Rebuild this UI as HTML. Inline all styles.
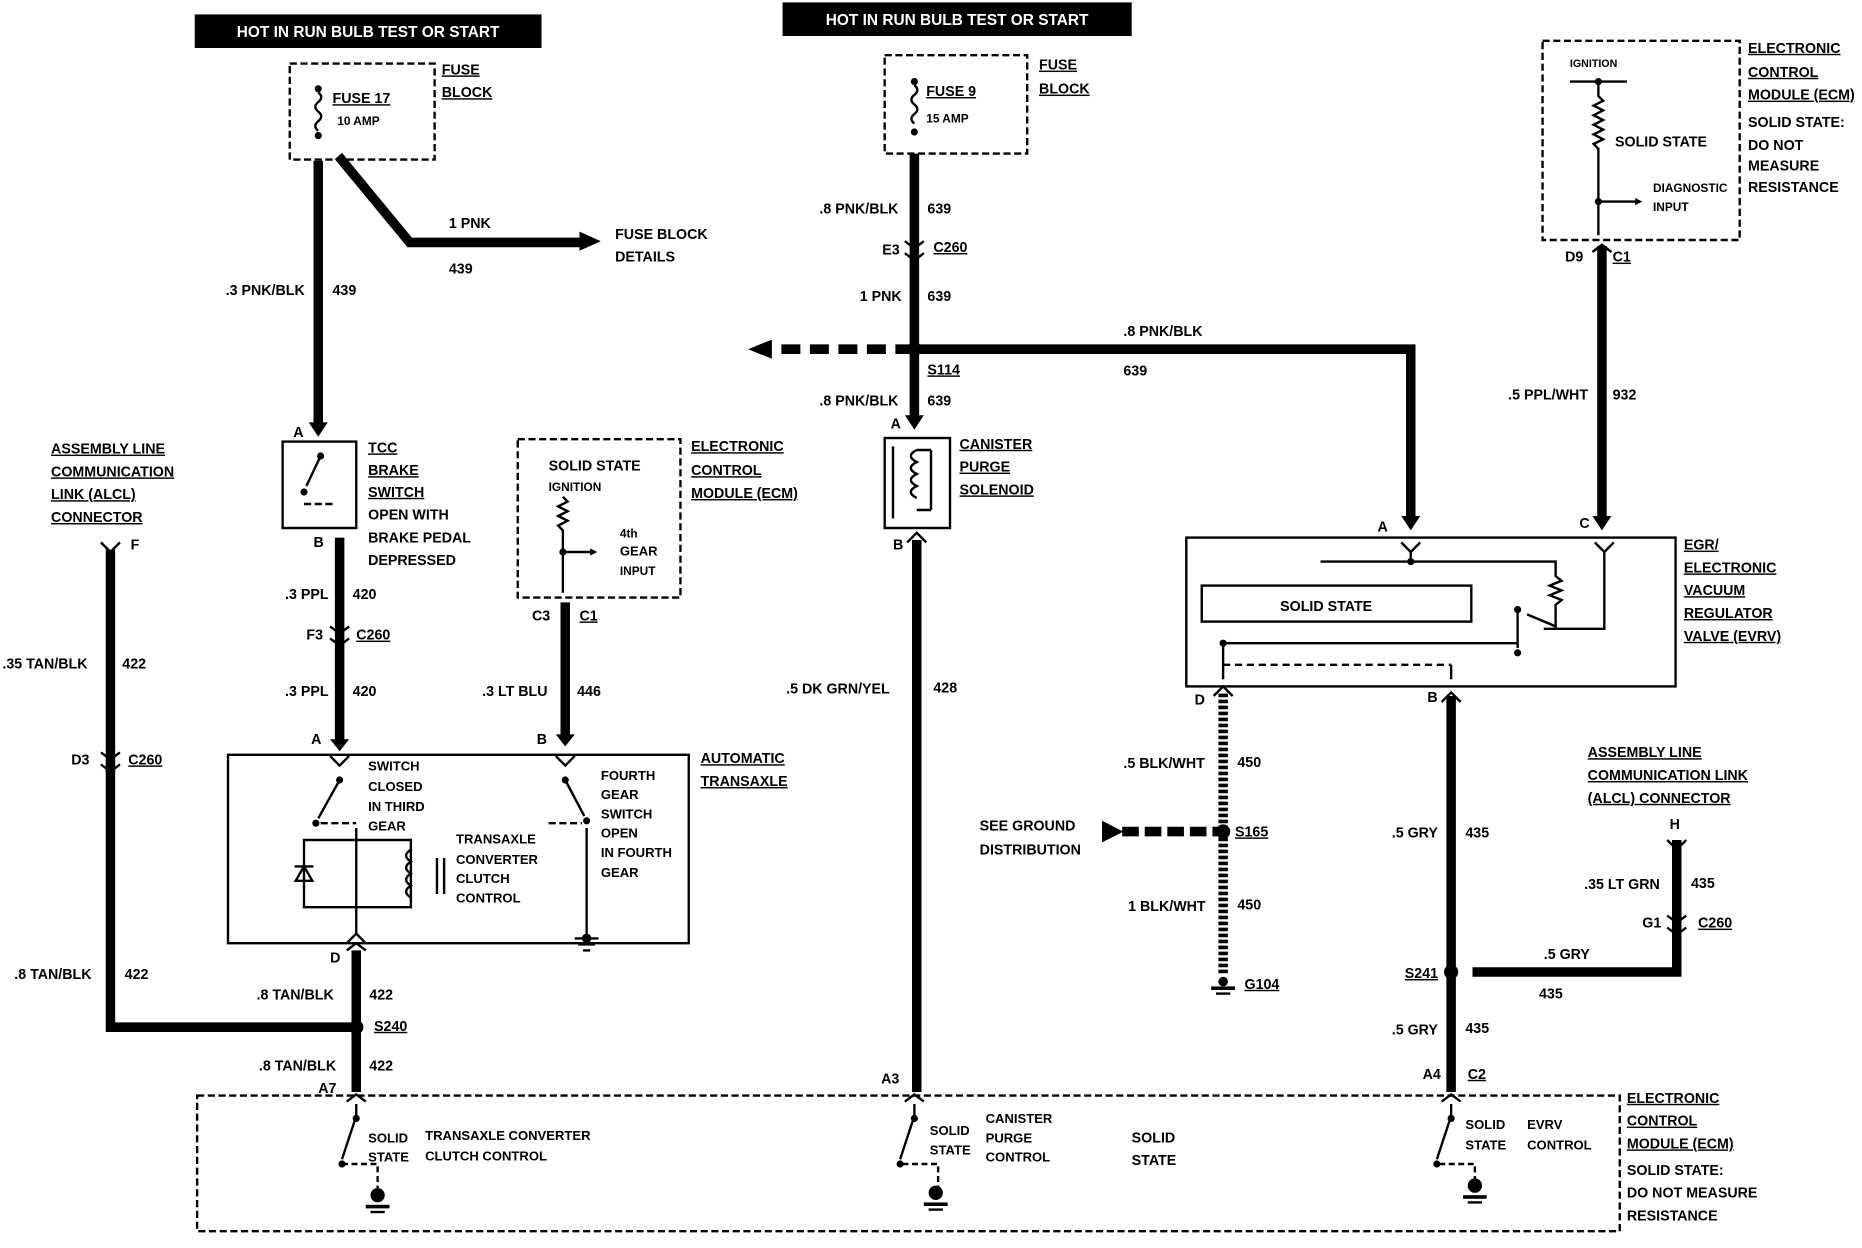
<!DOCTYPE html>
<html><head><meta charset="utf-8"><style>
html,body{margin:0;padding:0;background:#fff;}
svg{display:block;}
text{font-family:"Liberation Sans",sans-serif;font-weight:bold;font-size:12px;fill:#000;}
.w{stroke:#000;stroke-width:8;fill:none;}
.t{stroke:#000;stroke-width:2;fill:none;}
.d{stroke:#000;stroke-width:2;fill:none;stroke-dasharray:6,3;}
.u{text-decoration:underline;}
</style></head><body>
<svg width="1862" height="1248" viewBox="0 0 1568 1040" preserveAspectRatio="none" xmlns="http://www.w3.org/2000/svg">
<defs>
<marker id="ah" viewBox="0 0 10 10" refX="5" refY="5" markerWidth="3" markerHeight="3" orient="auto"><path d="M0,0 L10,5 L0,10 z"/></marker>
</defs>
<!-- header boxes -->
<rect x="164" y="12" width="292" height="28" fill="#000"/>
<text x="310" y="31" text-anchor="middle" style="fill:#fff;font-size:13px">HOT IN RUN BULB TEST OR START</text>
<rect x="659" y="2" width="294" height="28" fill="#000"/>
<text x="806" y="21" text-anchor="middle" style="fill:#fff;font-size:13px">HOT IN RUN BULB TEST OR START</text>

<!-- fuse 17 -->
<rect x="244" y="53" width="122" height="80" class="d"/>
<circle cx="268" cy="74" r="3"/><path d="M268,77 q5,4 0,8 q-5,4 0,8 q5,4 0,8 q-5,4 0,8" class="t"/>
<circle cx="268" cy="113" r="3"/>
<text x="280" y="86" class="u">FUSE 17</text><text x="284" y="104" style="font-size:10px">10 AMP</text>
<text x="372" y="62" class="u">FUSE</text><text x="372" y="81" class="u">BLOCK</text>
<path d="M268,134 V355" class="w"/><path d="M260,352 L268,364 L276,352Z"/>
<path d="M285,130 L345,202 H490" class="w"/><path d="M488,193 L506,201 L488,209Z"/>
<text x="378" y="190">1 PNK</text><text x="378" y="228">439</text>
<text x="518" y="199">FUSE BLOCK</text><text x="518" y="218">DETAILS</text>
<text x="190" y="246">.3 PNK/BLK</text><text x="280" y="246">439</text>
<text x="247" y="364">A</text>

<!-- TCC switch -->
<rect x="238" y="368" width="62" height="72" class="t"/>
<circle cx="270" cy="380" r="3"/><path d="M270,380 L258,405" class="t"/><circle cx="256" cy="410" r="3"/>
<path d="M256,420 H280" class="d"/>
<text x="310" y="377" class="u">TCC</text><text x="310" y="396" class="u">BRAKE</text><text x="310" y="414" class="u">SWITCH</text>
<text x="310" y="433">OPEN WITH</text><text x="310" y="452">BRAKE PEDAL</text><text x="310" y="471">DEPRESSED</text>
<text x="264" y="456">B</text>
<path d="M286,448 V620" class="w"/><path d="M278,616 L286,626 L294,616Z"/>
<path d="M278,522 L286,528 L294,522 M278,532 L286,538 L294,532" class="t" stroke-width="3"/>
<text x="240" y="499">.3 PPL</text><text x="297" y="499">420</text>
<text x="258" y="533">F3</text><text x="300" y="533" class="u">C260</text>
<text x="240" y="580">.3 PPL</text><text x="297" y="580">420</text>
<text x="262" y="620">A</text>

<!-- ECM small -->
<rect x="436" y="366" width="137" height="132" class="d"/>
<text x="462" y="392">SOLID STATE</text><text x="462" y="409" style="font-size:10px">IGNITION</text>
<path d="M474,414 l4,4 l-8,4 l8,4 l-8,4 l8,4 l-8,4 l4,4 V494" class="t"/>
<path d="M474,460 H500" class="t" marker-end="url(#ah)"/><circle cx="474" cy="460" r="3"/>
<text x="522" y="448" style="font-size:10px">4th</text><text x="522" y="463" style="font-size:11px">GEAR</text><text x="522" y="479" style="font-size:10px">INPUT</text>
<text x="582" y="376" class="u">ELECTRONIC</text><text x="582" y="396" class="u">CONTROL</text><text x="582" y="415" class="u">MODULE (ECM)</text>
<text x="448" y="517">C3</text><text x="488" y="517" class="u">C1</text>
<path d="M476,502 V616" class="w"/><path d="M468,612 L476,622 L484,612Z"/>
<text x="406" y="580">.3 LT BLU</text><text x="486" y="580">446</text>
<text x="452" y="620">B</text>

<!-- automatic transaxle -->
<rect x="192" y="629" width="388" height="157" class="t"/>
<path d="M278,630 l8,8 l8,-8" class="t"/><circle cx="286" cy="650" r="3"/><path d="M286,650 L268,682" class="t"/><circle cx="266" cy="686" r="3"/><path d="M270,686 H300" class="d"/>
<text x="310" y="642" style="font-size:11px">SWITCH</text><text x="310" y="659" style="font-size:11px">CLOSED</text><text x="310" y="676" style="font-size:11px">IN THIRD</text><text x="310" y="692" style="font-size:11px">GEAR</text>
<path d="M468,630 l8,8 l8,-8" class="t"/><circle cx="476" cy="650" r="3"/><path d="M476,650 L492,680" class="t"/><circle cx="494" cy="684" r="3"/><path d="M462,686 H490" class="d"/>
<text x="506" y="650" style="font-size:11px">FOURTH</text><text x="506" y="666" style="font-size:11px">GEAR</text><text x="506" y="682" style="font-size:11px">SWITCH</text><text x="506" y="698" style="font-size:11px">OPEN</text><text x="506" y="714" style="font-size:11px">IN FOURTH</text><text x="506" y="731" style="font-size:11px">GEAR</text>
<path d="M300,690 V778 M256,700 H346 V756 H256 Z M300,756 V778" class="t"/>
<path d="M248,722 H264 M256,722 l-7,12 h14 z" class="t"/>
<path d="M346,708 q-8,5 0,10 q-8,5 0,10 q-8,5 0,10 q-8,5 0,10" class="t"/>
<path d="M368,715 V745 M374,715 V745" class="t"/>
<text x="384" y="703" style="font-size:11px">TRANSAXLE</text><text x="384" y="720" style="font-size:11px">CONVERTER</text><text x="384" y="736" style="font-size:11px">CLUTCH</text><text x="384" y="752" style="font-size:11px">CONTROL</text>
<path d="M292,786 l8,-8 l8,8" class="t"/>
<path d="M494,690 V782 M484,782 H504 M487,787 H501 M491,792 H497" class="t"/><circle cx="494" cy="782" r="4"/>
<text x="590" y="636" class="u">AUTOMATIC</text><text x="590" y="655" class="u">TRANSAXLE</text>
<text x="278" y="802">D</text>

<!-- ALCL left -->
<text x="43" y="378" class="u">ASSEMBLY LINE</text><text x="43" y="397" class="u">COMMUNICATION</text><text x="43" y="416" class="u">LINK (ALCL)</text><text x="43" y="435" class="u">CONNECTOR</text>
<path d="M85,452 l8,8 l8,-8" class="t" stroke-width="3"/><text x="110" y="458">F</text>
<path d="M93,458 V856 H300" class="w"/>
<path d="M85,627 l8,6 l8,-6 M85,637 l8,6 l8,-6" class="t" stroke-width="3"/>
<text x="2" y="557">.35 TAN/BLK</text><text x="103" y="557">422</text>
<text x="60" y="637">D3</text><text x="108" y="637" class="u">C260</text>
<text x="12" y="816">.8 TAN/BLK</text><text x="105" y="816">422</text>
<path d="M300,792 V910" class="w"/><path d="M292,792 l8,-6 l8,6" class="t" stroke-width="3"/>
<circle cx="300" cy="856" r="6"/>
<text x="216" y="833">.8 TAN/BLK</text><text x="311" y="833">422</text>
<text x="315" y="859" class="u">S240</text>
<text x="218" y="892">.8 TAN/BLK</text><text x="311" y="892">422</text>
<text x="268" y="911">A7</text>

<!-- bottom ECM -->
<rect x="166" y="913" width="1198" height="113" class="d"/>
<path d="M292,918 l8,-6 l8,6 M762,918 l8,-6 l8,6 M1214,918 l8,-6 l8,6" class="t"/>
<g class="t">
<path d="M300,920 V930 L288,966"/><path d="M770,920 V930 L758,966"/><path d="M1222,920 V930 L1210,966"/>
<path d="M288,970 H318 V990 M760,970 H790 V990 M1212,970 H1242 V990" stroke-dasharray="5,3"/>
</g>
<circle cx="300" cy="932" r="3"/><circle cx="770" cy="932" r="3"/><circle cx="1222" cy="932" r="3"/>
<circle cx="288" cy="970" r="3"/><circle cx="758" cy="970" r="3"/><circle cx="1210" cy="970" r="3"/>
<g><circle cx="318" cy="996" r="6"/><rect x="308" y="1004" width="20" height="3"/><rect x="312" y="1009" width="12" height="2"/>
<circle cx="788" cy="994" r="6"/><rect x="778" y="1002" width="20" height="3"/><rect x="782" y="1007" width="12" height="2"/>
<circle cx="1242" cy="988" r="6"/><rect x="1232" y="996" width="20" height="3"/><rect x="1236" y="1001" width="12" height="2"/></g>
<text x="310" y="952" style="font-size:11px">SOLID</text><text x="310" y="968" style="font-size:11px">STATE</text>
<text x="358" y="950" style="font-size:11px">TRANSAXLE CONVERTER</text><text x="358" y="967" style="font-size:11px">CLUTCH CONTROL</text>
<text x="783" y="946" style="font-size:11px">SOLID</text><text x="783" y="962" style="font-size:11px">STATE</text>
<text x="830" y="936" style="font-size:11px">CANISTER</text><text x="830" y="952" style="font-size:11px">PURGE</text><text x="830" y="968" style="font-size:11px">CONTROL</text>
<text x="953" y="952">SOLID</text><text x="953" y="971">STATE</text>
<text x="1234" y="941" style="font-size:11px">SOLID</text><text x="1234" y="958" style="font-size:11px">STATE</text>
<text x="1286" y="941" style="font-size:11px">EVRV</text><text x="1286" y="958" style="font-size:11px">CONTROL</text>
<text x="1370" y="919" class="u">ELECTRONIC</text><text x="1370" y="938" class="u">CONTROL</text><text x="1370" y="957" class="u">MODULE (ECM)</text>
<text x="1370" y="979">SOLID STATE:</text><text x="1370" y="998">DO NOT MEASURE</text><text x="1370" y="1017">RESISTANCE</text>

<!-- fuse 9 -->
<rect x="745" y="46" width="120" height="82" class="d"/>
<circle cx="770" cy="68" r="3"/><path d="M770,71 q5,4 0,8 q-5,4 0,8 q5,4 0,8 q-5,4 0,8" class="t"/><circle cx="770" cy="110" r="3"/>
<text x="780" y="80" class="u">FUSE 9</text><text x="780" y="102" style="font-size:10px">15 AMP</text>
<text x="875" y="58" class="u">FUSE</text><text x="875" y="78" class="u">BLOCK</text>
<path d="M770,128 V350" class="w"/><path d="M762,346 L770,358 L778,346Z"/>
<path d="M762,201 l8,6 l8,-6 M762,211 l8,6 l8,-6" class="t" stroke-width="3"/>
<text x="690" y="178">.8 PNK/BLK</text><text x="781" y="178">639</text>
<text x="743" y="212">E3</text><text x="786" y="210" class="u">C260</text>
<text x="724" y="251">1 PNK</text><text x="781" y="251">639</text>
<circle cx="770" cy="291" r="6"/>
<path d="M770,291 H655" class="w" stroke-dasharray="16,8"/><path d="M650,283 L630,291 L650,299Z"/>
<path d="M770,291 H1188 V432" class="w"/><path d="M1180,430 L1188,442 L1196,430Z"/>
<text x="781" y="312" class="u">S114</text>
<text x="946" y="280">.8 PNK/BLK</text><text x="946" y="313">639</text>
<text x="690" y="338">.8 PNK/BLK</text><text x="781" y="338">639</text>
<text x="750" y="357">A</text>

<!-- canister -->
<rect x="745" y="365" width="55" height="75" class="t"/>
<path d="M752,372 V432 M772,375 q-10,5 0,10 q-10,5 0,10 q-10,5 0,10 q-10,5 0,10 M784,375 V425 M772,375 h12 M772,425 h12" class="t"/>
<text x="808" y="374" class="u">CANISTER</text><text x="808" y="393" class="u">PURGE</text><text x="808" y="412" class="u">SOLENOID</text>
<text x="752" y="458">B</text>
<path d="M772,450 V910" class="w"/><path d="M764,452 l8,-8 l8,8" class="t" stroke-width="3"/>
<text x="662" y="578">.5 DK GRN/YEL</text><text x="786" y="577">428</text>
<text x="742" y="903">A3</text>

<!-- ECM top right -->
<rect x="1299" y="34" width="166" height="166" class="d"/>
<text x="1322" y="56" style="font-size:9px">IGNITION</text>
<path d="M1322,68 H1370 M1346,68 V80 l4,4 l-8,4 l8,4 l-8,4 l8,4 l-8,4 l8,4 l-8,4 l8,4 l-8,4 l4,4 V196" class="t"/>
<circle cx="1346" cy="68" r="3"/><circle cx="1346" cy="168" r="3"/>
<path d="M1346,168 H1380" class="t" marker-end="url(#ah)"/>
<text x="1360" y="122">SOLID STATE</text>
<text x="1392" y="160" style="font-size:10px">DIAGNOSTIC</text><text x="1392" y="176" style="font-size:10px">INPUT</text>
<text x="1472" y="44" class="u">ELECTRONIC</text><text x="1472" y="64" class="u">CONTROL</text><text x="1472" y="83" class="u">MODULE (ECM)</text>
<text x="1472" y="106">SOLID STATE:</text><text x="1472" y="125">DO NOT</text><text x="1472" y="142">MEASURE</text><text x="1472" y="160">RESISTANCE</text>
<text x="1318" y="218">D9</text><text x="1358" y="218" class="u">C1</text>
<path d="M1349,205 V434" class="w"/><path d="M1341,430 L1349,442 L1357,430Z"/>
<path d="M1341,210 l8,-6 l8,6" class="t" stroke-width="3"/>
<text x="1270" y="333">.5 PPL/WHT</text><text x="1358" y="333">932</text>
<text x="1160" y="443">A</text><text x="1330" y="440">C</text>

<!-- EGR -->
<rect x="999" y="448" width="412" height="124" class="t"/>
<path d="M1180,452 l8,8 l8,-8 M1343,452 l8,8 l8,-8" class="t"/>
<path d="M1112,468 H1310 V480 l5,4 l-10,4 l10,4 l-10,4 l10,4 l-5,4 V522 L1286,512 M1188,460 V468" class="t"/>
<path d="M1351,460 V524 H1300" class="t"/>
<circle cx="1188" cy="468" r="3"/><circle cx="1278" cy="508" r="3"/><path d="M1278,508 V540" class="t"/>
<rect x="1012" y="488" width="227" height="30" class="t"/>
<text x="1078" y="509">SOLID STATE</text>
<path d="M1030,536 H1278 M1030,536 V566 M1222,554 V566" class="t"/><circle cx="1030" cy="536" r="3"/><circle cx="1278" cy="544" r="3"/>
<path d="M1030,554 H1222" class="t" stroke-dasharray="6,4"/>
<text x="1418" y="458" class="u">EGR/</text><text x="1418" y="477" class="u">ELECTRONIC</text><text x="1418" y="496" class="u">VACUUM</text><text x="1418" y="515" class="u">REGULATOR</text><text x="1418" y="534" class="u">VALVE (EVRV)</text>
<text x="1006" y="587">D</text><text x="1202" y="585">B</text>

<!-- ground wire -->
<path d="M1030,578 V812" class="w" stroke-dasharray="3,2"/><path d="M1022,580 l8,-8 l8,8" class="t" stroke-width="3"/>
<circle cx="1030" cy="693" r="6"/>
<path d="M945,693 H1030" class="w" stroke-dasharray="14,5"/><path d="M928,684 L946,693 L928,702Z"/>
<circle cx="1030" cy="818" r="4"/><rect x="1020" y="822" width="20" height="3"/><rect x="1024" y="827" width="12" height="2"/>
<text x="825" y="692">SEE GROUND</text><text x="825" y="712">DISTRIBUTION</text>
<text x="946" y="640">.5 BLK/WHT</text><text x="1042" y="639">450</text>
<text x="1040" y="697" class="u">S165</text>
<text x="950" y="759">1 BLK/WHT</text><text x="1042" y="758">450</text>
<text x="1048" y="824" class="u">G104</text>

<!-- B wire -->
<path d="M1222,580 V910" class="w"/><path d="M1214,585 l8,-8 l8,8" class="t" stroke-width="3"/>
<circle cx="1222" cy="810" r="6"/>
<path d="M1240,810 H1412 V700" class="w"/><path d="M1404,700 l8,8 l8,-8" class="t" stroke-width="3"/>
<path d="M1404,763 l8,6 l8,-6 M1404,773 l8,6 l8,-6" class="t" stroke-width="3"/>
<text x="1172" y="698">.5 GRY</text><text x="1234" y="698">435</text>
<text x="1183" y="815" class="u">S241</text>
<text x="1300" y="799">.5 GRY</text><text x="1296" y="832">435</text>
<text x="1172" y="862">.5 GRY</text><text x="1234" y="861">435</text>
<text x="1198" y="899">A4</text><text x="1236" y="899" class="u">C2</text>
<text x="1337" y="631" class="u">ASSEMBLY LINE</text><text x="1337" y="650" class="u">COMMUNICATION LINK</text><text x="1337" y="669" class="u">(ALCL) CONNECTOR</text>
<text x="1406" y="691">H</text>
<text x="1334" y="741">.35 LT GRN</text><text x="1424" y="740">435</text>
<text x="1383" y="773">G1</text><text x="1430" y="773" class="u">C260</text>
</svg>
</body></html>
